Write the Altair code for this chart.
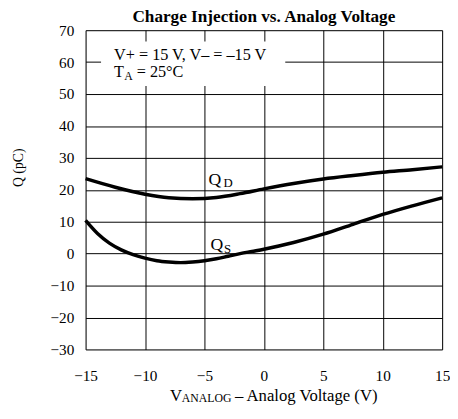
import altair as alt
import pandas as pd

# ---- data ----
qd_v = [-15, -12.5, -10, -8, -6, -4, -2, 0, 2.5, 5, 7.5, 10, 12.5, 15]
qd_q = [23.5, 20.8, 18.6, 17.5, 17.2, 17.6, 18.8, 20.3, 22.0, 23.4, 24.5, 25.5, 26.3, 27.2]

qs_v = [-15, -14, -13, -12, -11, -10, -9, -8, -7, -6, -5, -4, -3, -2, -1, 0, 2.5, 5, 7.5, 10, 12.5, 15]
qs_q = [10.4, 6.3, 3.3, 1.2, -0.3, -1.4, -2.2, -2.6, -2.8, -2.6, -2.2, -1.6, -0.8, 0.0, 0.7, 1.4, 3.5, 6.1, 9.2, 12.3, 15.0, 17.5]

x_ticks = [-15, -10, -5, 0, 5, 10, 15]
y_ticks = [-30, -20, -10, 0, 10, 20, 30, 40, 50, 60, 70]

title_text = "Charge Injection vs. Analog Voltage"
x_title_parts = ["V", "ANALOG", "\u2013 Analog Voltage (V)"]
y_title = "Q (pC)"
FONT = "Liberation Serif"

curves = pd.concat([
    pd.DataFrame({"v": qd_v, "q": qd_q, "s": "QD"}),
    pd.DataFrame({"v": qs_v, "q": qs_q, "s": "QS"}),
])

xs = alt.Scale(domain=[-15, 15], nice=False, zero=False)
ys = alt.Scale(domain=[-30, 70], nice=False, zero=False)

xax = alt.Axis(values=x_ticks, title=None, grid=True, ticks=False, domain=False,
               labelFont=FONT, labelFontSize=15.5, labelColor="black", labelPadding=20,
               labelOverlap=False, labelFlush=False,
               gridColor="black", gridOpacity=1, gridWidth=1)
yax = alt.Axis(values=y_ticks, title=None, grid=True, ticks=False, domain=False,
               labelFont=FONT, labelFontSize=15.5, labelColor="black", labelPadding=12,
               labelOverlap=False, labelFlush=False,
               gridColor="black", gridOpacity=1, gridWidth=1)

lines = alt.Chart(curves).mark_line(color="black", strokeWidth=3.5, interpolate="monotone").encode(
    x=alt.X("v:Q", scale=xs, axis=xax),
    y=alt.Y("q:Q", scale=ys, axis=yax),
    detail="s:N",
)

# white box behind annotation text
box_df = pd.DataFrame({"x1": [-13.7], "x2": [1.8], "y1": [52.5], "y2": [66.5]})
box = alt.Chart(box_df).mark_rect(color="white").encode(
    x=alt.X("x1:Q", scale=xs, axis=xax), x2="x2:Q",
    y=alt.Y("y1:Q", scale=ys, axis=yax), y2="y2:Q",
)

# curve labels with subscripts
lab_df = pd.DataFrame({
    "x": [-4.65, -3.4, -4.5, -3.35],
    "y": [21.4, 20.8, 1.1, 0.2],
    "t": ["Q", "D", "Q", "S"],
    "size": [18, 13, 18, 13],
})
labels = alt.Chart(lab_df).mark_text(font=FONT, align="left", baseline="alphabetic", color="black").encode(
    x=alt.X("x:Q", scale=xs, axis=xax), y=alt.Y("y:Q", scale=ys, axis=yax), text="t:N",
    size=alt.Size("size:Q", scale=None, legend=None),
)

# annotation text
ann_df = pd.DataFrame({
    "x": [-12.6, -12.6, -11.75, -10.7],
    "y": [60.6, 55.3, 54.5, 55.3],
    "t": ["V+ = 15 V, V\u2013 = \u201315 V", "T", "A", "= 25\u00b0C"],
    "size": [16.5, 16.5, 12, 16.5],
})
ann = alt.Chart(ann_df).mark_text(font=FONT, align="left", baseline="alphabetic", color="black").encode(
    x=alt.X("x:Q", scale=xs, axis=xax), y=alt.Y("y:Q", scale=ys, axis=yax), text="t:N",
    size=alt.Size("size:Q", scale=None, legend=None),
)

# title and axis titles (pixel offsets from the plot area's corner)
def pixel_text(txt, px, py, size, **kw):
    return alt.Chart(pd.DataFrame({"t": [txt]})).mark_text(
        font=FONT, fontSize=size, color="black", **kw
    ).encode(x=alt.value(px), y=alt.value(py), text="t:N")

W, H = 363, 325
ttitle = pixel_text(title_text, W / 2, -8, 17.5, fontWeight="bold", align="center", baseline="alphabetic")
xt1 = pixel_text(x_title_parts[0], 86, 378, 17, align="left", baseline="alphabetic")
xt2 = pixel_text(x_title_parts[1], 98, 379, 12, align="left", baseline="alphabetic")
xt3 = pixel_text(x_title_parts[2], 152, 378, 17, align="left", baseline="alphabetic")
ytitle = pixel_text(y_title, -68, 140, 14, angle=270, align="center", baseline="middle")

chart = alt.layer(box, lines, labels, ann, ttitle, xt1, xt2, xt3, ytitle).properties(
    width=W, height=H,
    autosize=alt.AutoSizeParams(type="none"),
    padding={"left": 79, "top": 19, "right": 8, "bottom": 55},
).configure_view(stroke="black", strokeWidth=1.5).configure(background="white")

chart.save("out.html", embed_options={"renderer": "svg", "actions": False})
